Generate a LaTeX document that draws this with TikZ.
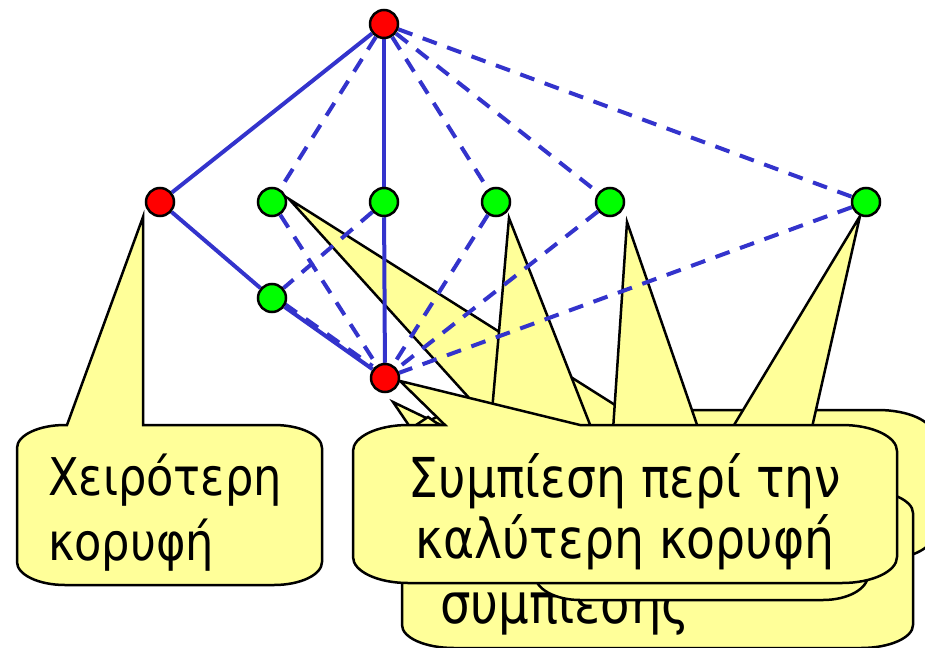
\documentclass[tikz,border=0pt]{standalone}
\usepackage{fontspec}
\setmainfont{DejaVu Sans}[FakeStretch=0.86]
\definecolor{lineblue}{RGB}{51,51,204}
\definecolor{bubbleyellow}{RGB}{255,255,153}
\definecolor{nodered}{RGB}{255,0,0}
\definecolor{nodegreen}{RGB}{0,255,0}
\newcommand\sidefont{\fontsize{52}{60}\selectfont}
\newcommand\backfont{\fontsize{56}{60}\selectfont}
\newcommand\frontfont{\fontsize{55}{62}\selectfont}
\pgfdeclarelayer{bubbles}
\pgfdeclarelayer{edges}
\pgfsetlayers{bubbles,edges,main}
\tikzset{
  vert/.style={circle, draw=black, line width=2.5pt, minimum size=28pt, inner sep=0pt},
  redv/.style={vert, fill=nodered},
  greenv/.style={vert, fill=nodegreen},
  solidedge/.style={draw=lineblue, line width=4pt},
  dashededge/.style={solidedge, dash pattern=on 15pt off 11pt},
  bubble/.style={draw=black, line width=2.5pt, fill=bubbleyellow, line join=miter},
  lbl/.style={inner sep=0pt, text=black}
}
% callout: x1 y1 x2 y2 basex1 basex2 tipx tipy  (radii \crx \cry)
\newcommand\callpath[8]{%
  \path[bubble] (#1+\crx,#2) -- (#5,#2) -- (#7,#8) -- (#6,#2) -- (#3-\crx,#2)
    .. controls (#3-0.448*\crx,#2) and (#3,#2+0.448*\cry) .. (#3,#2+\cry)
    -- (#3,#4-\cry)
    .. controls (#3,#4-0.448*\cry) and (#3-0.448*\crx,#4) .. (#3-\crx,#4)
    -- (#1+\crx,#4)
    .. controls (#1+0.448*\crx,#4) and (#1,#4-0.448*\cry) .. (#1,#4-\cry)
    -- (#1,#2+\cry)
    .. controls (#1,#2+0.448*\cry) and (#1+0.448*\crx,#2) .. (#1+\crx,#2) -- cycle;}
\newcommand\roundpath[4]{%
  \path[bubble] (#1+\crx,#2) -- (#3-\crx,#2)
    .. controls (#3-0.448*\crx,#2) and (#3,#2+0.448*\cry) .. (#3,#2+\cry)
    -- (#3,#4-\cry)
    .. controls (#3,#4-0.448*\cry) and (#3-0.448*\crx,#4) .. (#3-\crx,#4)
    -- (#1+\crx,#4)
    .. controls (#1+0.448*\crx,#4) and (#1,#4-0.448*\cry) .. (#1,#4-\cry)
    -- (#1,#2+\cry)
    .. controls (#1,#2+0.448*\cry) and (#1+0.448*\crx,#2) .. (#1+\crx,#2) -- cycle;}
\begin{document}
\begin{tikzpicture}[x=1pt,y=-1pt]
\path[use as bounding box, clip] (0,0) rectangle (925,647);

% vertices
\node[redv]   (top)   at (384,24)  {};
\node[redv]   (worst) at (160,202) {};
\node[greenv] (g1)    at (272,202) {};
\node[greenv] (g2)    at (384,202) {};
\node[greenv] (g3)    at (496,202) {};
\node[greenv] (g4)    at (610,202) {};
\node[greenv] (g5)    at (866,202) {};
\node[greenv] (g6)    at (272,298) {};
\node[redv]   (best)  at (385,378) {};

% edges
\begin{pgfonlayer}{edges}
\draw[solidedge] (top) -- (worst);
\draw[solidedge] (top) -- (g2);
\draw[solidedge] (worst) -- (g6);
\draw[solidedge] (g6) -- (best);
\draw[solidedge] (g2) -- (best);
\draw[dashededge] (top) -- (g1);
\draw[dashededge] (top) -- (g3);
\draw[dashededge] (top) -- (g4);
\draw[dashededge] (top) -- (g5);
\draw[dashededge] (g1) -- (best);
\draw[dashededge] (g2) -- (g6);
\draw[dashededge] (g3) -- (best);
\draw[dashededge] (g4) -- (best);
\draw[dashededge] (g5) -- (best);
\draw[dashededge, transform canvas={yshift=3pt}] (g6) -- (best);
\end{pgfonlayer}

% callouts
\begin{pgfonlayer}{bubbles}
% left callout
\def\crx{48}\def\cry{23}
\callpath{17}{425}{322}{585}{67}{143}{143}{217}
\node[lbl, anchor=base west, font=\sidefont] (worstA) at (48,495) {Χειρότερη};
\node[lbl, anchor=base west, font=\sidefont] (worstB) at (48,560) {κορυφή};
% box B with pointer to g1
\def\crx{55}\def\cry{25}
\callpath{420}{410}{933}{560}{480}{623}{289}{199}
% box A
\def\crx{52}\def\cry{23}
\roundpath{402}{490}{913}{648}
\node[lbl, anchor=base west, font=\backfont] (condC) at (440,623) {συμπίεσης};
% box C with pointers
\def\crx{45}\def\cry{25}
\roundpath{535}{445}{868}{600}
\path[bubble] (509,218) -- (489,445) -- (598,445) -- cycle;
\path[bubble] (627,222) -- (612,445) -- (704,445) -- cycle;
\path[bubble] (860,216) -- (722,445) -- (808,445) -- cycle;
% small pointers
\path[bubble] (393,402) -- (410,427) -- (445,427) -- cycle;
\path[bubble] (413,427) -- (428,417) -- (442,427) -- cycle;
% front callout
\def\crx{55}\def\cry{26}
\callpath{353}{425}{897}{583}{445}{580}{400}{381}
\node[lbl, anchor=base, font=\frontfont] (bestA) at (625,497) {Συμπίεση περί την};
\node[lbl, anchor=base, font=\frontfont] (bestB) at (625,558) {καλύτερη κορυφή};
\end{pgfonlayer}
\end{tikzpicture}
\end{document}
